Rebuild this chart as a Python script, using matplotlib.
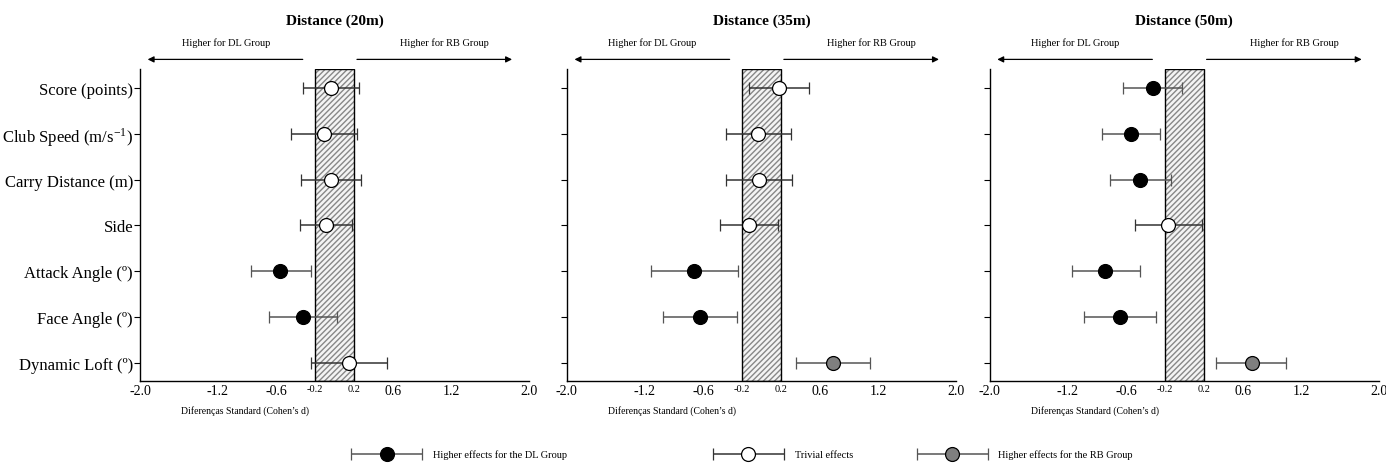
import matplotlib.pyplot as plt
import numpy as np
from matplotlib.container import ErrorbarContainer
from matplotlib.legend_handler import HandlerErrorbar

plt.rcParams['font.family'] = ['Liberation Serif', 'DejaVu Serif']
plt.rcParams['mathtext.fontset'] = 'stix'

# variables, top to bottom
categories = ['Score (points)', 'Club Speed (m/s$^{\\mathregular{-1}}$)', 'Carry Distance (m)', 'Side',
              'Attack Angle (º)', 'Face Angle (º)', 'Dynamic Loft (º)']
titles = ['Distance (20m)', 'Distance (35m)', 'Distance (50m)']

# effect size (Cohen's d) with lower/upper CI; group: 'DL', 'T' (trivial), 'RB'
d_20 = [-0.04, -0.11, -0.04, -0.09, -0.56, -0.33, 0.15]
lo_20 = [-0.33, -0.45, -0.35, -0.36, -0.86, -0.67, -0.24]
hi_20 = [0.25, 0.23, 0.27, 0.18, -0.24, 0.02, 0.54]
grp_20 = ['T', 'T', 'T', 'T', 'DL', 'DL', 'T']

d_35 = [0.18, -0.04, -0.03, -0.13, -0.69, -0.63, 0.73]
lo_35 = [-0.13, -0.37, -0.37, -0.43, -1.14, -1.01, 0.35]
hi_35 = [0.49, 0.30, 0.31, 0.17, -0.24, -0.25, 1.11]
grp_35 = ['T', 'T', 'T', 'T', 'DL', 'DL', 'RB']

d_50 = [-0.32, -0.55, -0.46, -0.165, -0.81, -0.66, 0.69]
lo_50 = [-0.63, -0.85, -0.76, -0.51, -1.15, -1.03, 0.33]
hi_50 = [-0.02, -0.25, -0.14, 0.185, -0.46, -0.29, 1.04]
grp_50 = ['DL', 'DL', 'DL', 'T', 'DL', 'DL', 'RB']

xticks = [-2.0, -1.2, -0.6, -0.2, 0.2, 0.6, 1.2, 2.0]
trivial_lo, trivial_hi = -0.2, 0.2

panels = [(d_20, lo_20, hi_20, grp_20), (d_35, lo_35, hi_35, grp_35), (d_50, lo_50, hi_50, grp_50)]
styles = {'DL': dict(mfc='black', ecolor='#555555'),
          'T': dict(mfc='white', ecolor='#333333'),
          'RB': dict(mfc='#7f7f7f', ecolor='#555555')}
labels = {'DL': 'Higher effects for the DL Group', 'T': 'Trivial effects',
          'RB': 'Higher effects for the RB Group'}

fig = plt.figure(figsize=(13.86, 4.64), dpi=100)
lefts = [0.101, 0.409, 0.714]
handles = {}
ypos = np.arange(len(categories))

for i, (d, lo, hi, grp) in enumerate(panels):
    ax = fig.add_axes([lefts[i], 0.177, 0.281, 0.672])
    d = np.array(d); lo = np.array(lo); hi = np.array(hi); grp = np.array(grp)

    ax.axvspan(trivial_lo, trivial_hi, facecolor='#f4f4f4', edgecolor='#888888', hatch='//////', lw=0, zorder=1)
    ax.axvspan(trivial_lo, trivial_hi, facecolor='none', edgecolor='black', lw=1.0, zorder=2)

    for g in ['DL', 'T', 'RB']:
        m = grp == g
        if not m.any():
            continue
        st = styles[g]
        c = ax.errorbar(d[m], ypos[m], xerr=[d[m] - lo[m], hi[m] - d[m]], fmt='o', ms=10,
                        mfc=st['mfc'], mec='black', mew=0.9, ecolor=st['ecolor'], elinewidth=1.1,
                        capsize=4, capthick=1.1, zorder=3)
        handles.setdefault(g, c)

    ax.set_xlim(-2.0, 2.0)
    ax.set_ylim(len(categories) - 0.6, -0.42)
    ax.set_yticks(ypos)
    if i == 0:
        ax.set_yticklabels(categories, fontsize=12)
    else:
        ax.set_yticklabels([])
    ax.set_xticks(xticks)
    ax.set_xticklabels(['%.1f' % t for t in xticks], fontsize=10)
    for lab, t in zip(ax.get_xticklabels(), xticks):
        if abs(t) < 0.3:
            lab.set_fontsize(7.5)
    ax.tick_params(axis='x', direction='in', length=0, pad=2)
    ax.tick_params(axis='y', direction='out', length=4, width=0.8, pad=1)
    ax.spines['top'].set_visible(False)
    ax.spines['right'].set_visible(False)
    ax.spines['left'].set_linewidth(1.0)
    ax.spines['bottom'].set_linewidth(1.0)

    trans = ax.get_xaxis_transform()
    ax.text(0.0, 1.157, titles[i], transform=trans, ha='center', va='center', fontsize=11, fontweight='bold')
    ax.text(-1.12, 1.086, 'Higher for DL Group', transform=trans, ha='center', va='center', fontsize=7.5)
    ax.text(1.13, 1.086, 'Higher for RB Group', transform=trans, ha='center', va='center', fontsize=7.5)
    ax.annotate('', xy=(-1.95, 1.031), xytext=(-0.30, 1.031), xycoords=trans, textcoords=trans,
                arrowprops=dict(arrowstyle='-|>', color='black', lw=0.9, mutation_scale=9))
    ax.annotate('', xy=(1.85, 1.031), xytext=(0.20, 1.031), xycoords=trans, textcoords=trans,
                arrowprops=dict(arrowstyle='-|>', color='black', lw=0.9, mutation_scale=9))
    ax.text(-0.92, -0.093, "Diferenças Standard (Cohen’s d)", transform=trans, ha='center', va='center', fontsize=7)

# legend entries placed separately
leg_x = [0.253, 0.514, 0.661]
for g, x in zip(['DL', 'T', 'RB'], leg_x):
    fig.legend([handles[g]], [labels[g]], loc='center left', bbox_to_anchor=(x, 0.018),
               frameon=False, fontsize=7.5, handlelength=6.9, handletextpad=1.0, borderpad=0, borderaxespad=0,
               handler_map={ErrorbarContainer: HandlerErrorbar(xerr_size=3.4, numpoints=1)})

plt.savefig('out.png', dpi=100)
